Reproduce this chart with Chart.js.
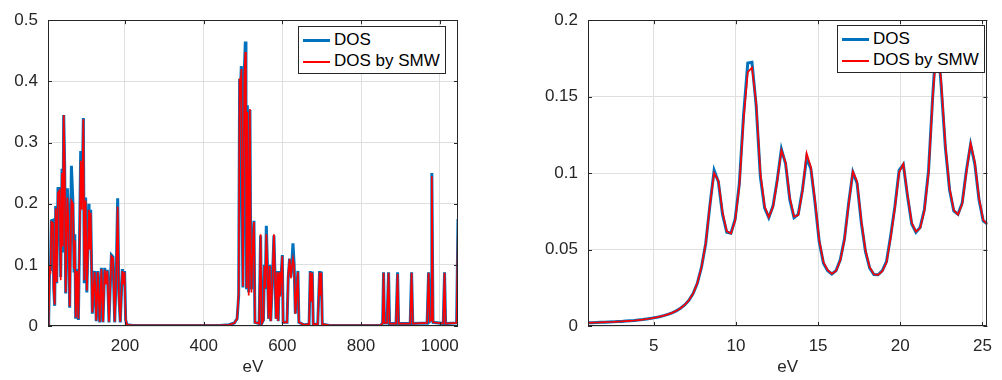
<!DOCTYPE html>
<html>
<head>
<meta charset="utf-8">
<script src="https://cdn.jsdelivr.net/npm/chart.js@4/dist/chart.umd.min.js"></script>
<style>
  body { margin: 0; background: #fff; width: 1002px; height: 380px; overflow: hidden; position: relative; font-family: 'Liberation Sans', Arial, sans-serif; }
  .box { position: absolute; top: 0; height: 380px; }
  #leftBox { left: 0; width: 470px; }
  #rightBox { left: 530px; width: 472px; }
  .legend { position: absolute; width: 146px; height: 46px; background: #fff; border: 1px solid #262626; font-size: 17px; color: #000; }
  .legend .row { position: absolute; left: 0; height: 20px; line-height: 20px; white-space: nowrap; }
  .legend .swatch { display: inline-block; width: 27px; margin: 0 4px 0 4px; vertical-align: middle; }
  .swatch.blue { height: 3px; background: #0072BD; }
  .swatch.red { height: 2px; background: #FF0000; }
</style>
</head>
<body>
<div class="box" id="leftBox"><canvas id="chartLeft"></canvas></div>
<div class="box" id="rightBox"><canvas id="chartRight"></canvas></div>

<div class="legend" style="left:298px; top:26px;">
  <div class="row" style="top:3px;"><span class="swatch blue"></span>DOS</div>
  <div class="row" style="top:24px;"><span class="swatch red"></span>DOS by SMW</div>
</div>
<div class="legend" style="left:837px; top:25px;">
  <div class="row" style="top:3px;"><span class="swatch blue"></span>DOS</div>
  <div class="row" style="top:24px;"><span class="swatch red"></span>DOS by SMW</div>
</div>

<script>
// left panel: full spectrum (eV)
const leftEnergy = [
  4.3, 6, 8.6, 10.5, 12.9, 17, 18.8, 21.3, 23.9, 26.5,
  29.7, 34, 36.6, 40, 42, 44.2, 46.7, 49.3, 51.5, 53.6,
  56, 59.4, 63.8, 67.8, 70.5, 72.5, 74.7, 78, 81.5, 84,
  87.4, 90.5, 94.2, 96.5, 100, 103, 105.5, 108.5, 110.5, 112.8,
  117, 120, 123, 127, 131, 135.7, 140, 144, 148.4, 151.5,
  155.2, 159.3, 165.4, 169.5, 173.8, 177.5, 181.4, 184.5, 188, 193.4,
  196, 199, 201.7, 205, 220, 440, 465, 478, 485, 489,
  491.4, 493.5, 495.7, 497.5, 499.8, 502, 503.5, 505.9, 507.5, 509,
  511, 513, 514.5, 517.6, 519.5, 521.5, 523.5, 525, 527.8, 530.3,
  541, 544.7, 547.5, 552, 554.5, 556.5, 559.3, 562, 565, 568,
  570.5, 575, 578.6, 581, 584, 587, 589.5, 592, 594, 599.9,
  602, 612, 615, 618.5, 621.5, 624, 627, 630, 633, 636,
  639.6, 642, 655, 668, 671, 673.5, 676, 678.5, 690, 694.7,
  697, 699, 701.5, 720, 850, 855, 857.3, 859.5, 866, 870,
  872.5, 889, 892.9, 895.5, 925, 928.5, 931.5, 968, 971.7, 975,
  978, 980, 983, 1009, 1012.3, 1015, 1043, 1046.5
];
const leftDos = [
  0.003, 0.010, 0.100, 0.090, 0.172, 0.173, 0.063, 0.033, 0.196, 0.070,
  0.225, 0.226, 0.080, 0.257, 0.120, 0.345, 0.262, 0.053, 0.150, 0.225,
  0.180, 0.030, 0.262, 0.200, 0.090, 0.150, 0.012, 0.093, 0.010, 0.120,
  0.286, 0.200, 0.340, 0.070, 0.210, 0.055, 0.120, 0.200, 0.130, 0.190,
  0.020, 0.060, 0.090, 0.008, 0.090, 0.006, 0.095, 0.006, 0.095, 0.070,
  0.092, 0.006, 0.116, 0.113, 0.006, 0.080, 0.209, 0.050, 0.006, 0.093,
  0.070, 0.090, 0.010, 0.002, 0.001, 0.001, 0.002, 0.005, 0.012, 0.050,
  0.404, 0.380, 0.425, 0.200, 0.063, 0.300, 0.420, 0.465, 0.250, 0.060,
  0.361, 0.150, 0.055, 0.353, 0.120, 0.060, 0.120, 0.140, 0.172, 0.006,
  0.004, 0.148, 0.004, 0.010, 0.100, 0.060, 0.164, 0.100, 0.012, 0.100,
  0.008, 0.080, 0.148, 0.090, 0.012, 0.090, 0.008, 0.090, 0.050, 0.116,
  0.006, 0.006, 0.080, 0.110, 0.080, 0.100, 0.135, 0.100, 0.020, 0.050,
  0.090, 0.006, 0.002, 0.003, 0.090, 0.040, 0.089, 0.003, 0.003, 0.090,
  0.050, 0.089, 0.003, 0.001, 0.001, 0.005, 0.088, 0.005, 0.005, 0.088,
  0.004, 0.004, 0.088, 0.004, 0.004, 0.088, 0.004, 0.005, 0.088, 0.008,
  0.010, 0.250, 0.006, 0.004, 0.088, 0.004, 0.005, 0.175
];
const leftSmw = [
  0.003, 0.010, 0.098, 0.085, 0.170, 0.168, 0.060, 0.035, 0.192, 0.072,
  0.218, 0.222, 0.075, 0.250, 0.130, 0.345, 0.265, 0.055, 0.145, 0.210,
  0.175, 0.032, 0.205, 0.200, 0.095, 0.140, 0.014, 0.090, 0.012, 0.115,
  0.270, 0.190, 0.338, 0.075, 0.205, 0.058, 0.115, 0.190, 0.125, 0.185,
  0.022, 0.058, 0.088, 0.009, 0.088, 0.007, 0.093, 0.007, 0.092, 0.068,
  0.090, 0.007, 0.114, 0.111, 0.007, 0.078, 0.195, 0.048, 0.007, 0.090,
  0.068, 0.088, 0.011, 0.002, 0.001, 0.001, 0.002, 0.005, 0.012, 0.055,
  0.405, 0.370, 0.420, 0.210, 0.065, 0.290, 0.410, 0.448, 0.260, 0.062,
  0.350, 0.155, 0.050, 0.355, 0.125, 0.055, 0.115, 0.135, 0.170, 0.006,
  0.004, 0.150, 0.004, 0.010, 0.098, 0.062, 0.150, 0.095, 0.012, 0.098,
  0.008, 0.078, 0.150, 0.088, 0.012, 0.088, 0.008, 0.088, 0.048, 0.114,
  0.006, 0.006, 0.085, 0.110, 0.078, 0.095, 0.110, 0.098, 0.020, 0.048,
  0.088, 0.006, 0.002, 0.003, 0.088, 0.040, 0.087, 0.003, 0.003, 0.088,
  0.050, 0.087, 0.003, 0.001, 0.001, 0.005, 0.087, 0.005, 0.005, 0.087,
  0.004, 0.004, 0.085, 0.004, 0.004, 0.087, 0.004, 0.005, 0.087, 0.008,
  0.010, 0.245, 0.006, 0.004, 0.087, 0.004, 0.005, 0.175
];
const leftXTicks = [200, 400, 600, 800, 1000];

// right panel: low-energy zoom, uniform grid from 1 to 25.3 eV
const rightStart = 1;
const rightEnd = 25.3;
const rightDos = [
  0.0021, 0.0022, 0.0023, 0.0024, 0.0025, 0.0026, 0.0027, 0.0029, 0.0030, 0.0032,
  0.0034, 0.0036, 0.0039, 0.0042, 0.0046, 0.0050, 0.0055, 0.0061, 0.0068, 0.0076,
  0.0086, 0.0099, 0.0116, 0.0138, 0.0168, 0.0212, 0.0280, 0.0385, 0.0540, 0.0790,
  0.1018, 0.0944, 0.0730, 0.0613, 0.0607, 0.0698, 0.0933, 0.1380, 0.1720, 0.1725,
  0.1440, 0.0975, 0.0773, 0.0709, 0.0784, 0.0954, 0.1157, 0.1060, 0.0826, 0.0709,
  0.0730, 0.0890, 0.1100, 0.1029, 0.0805, 0.0550, 0.0411, 0.0362, 0.0340, 0.0362,
  0.0433, 0.0570, 0.0805, 0.1007, 0.0933, 0.0677, 0.0486, 0.0379, 0.0337, 0.0335,
  0.0362, 0.0422, 0.0592, 0.0784, 0.1018, 0.1056, 0.0848, 0.0667, 0.0613, 0.0645,
  0.0762, 0.1018, 0.1508, 0.1934, 0.1570, 0.1167, 0.0890, 0.0752, 0.0730, 0.0805,
  0.1018, 0.1188, 0.1060, 0.0826, 0.0688, 0.0667
];
const rightSmw = [
  0.0021, 0.0022, 0.0023, 0.0024, 0.0025, 0.0026, 0.0027, 0.0029, 0.0030, 0.0032,
  0.0034, 0.0036, 0.0039, 0.0042, 0.0046, 0.0050, 0.0055, 0.0061, 0.0068, 0.0076,
  0.0086, 0.0099, 0.0116, 0.0138, 0.0168, 0.0212, 0.0280, 0.0385, 0.0540, 0.0790,
  0.1000, 0.0950, 0.0745, 0.0620, 0.0605, 0.0690, 0.0915, 0.1350, 0.1660, 0.1690,
  0.1460, 0.1000, 0.0785, 0.0712, 0.0778, 0.0945, 0.1150, 0.1070, 0.0840, 0.0715,
  0.0725, 0.0880, 0.1130, 0.1040, 0.0820, 0.0560, 0.0418, 0.0365, 0.0342, 0.0360,
  0.0428, 0.0562, 0.0795, 0.1010, 0.0945, 0.0690, 0.0495, 0.0384, 0.0338, 0.0334,
  0.0358, 0.0415, 0.0580, 0.0772, 0.1005, 0.1060, 0.0860, 0.0675, 0.0617, 0.0640,
  0.0752, 0.1000, 0.1500, 0.1860, 0.1600, 0.1185, 0.0900, 0.0758, 0.0728, 0.0798,
  0.1005, 0.1195, 0.1072, 0.0838, 0.0692, 0.0665
];
const rightXTicks = [5, 10, 15, 20, 25];

const rightStep = (rightEnd - rightStart) / (rightDos.length - 1);
const rightEnergy = rightDos.map((_, i) => rightStart + i * rightStep);

Chart.defaults.font.family = "'Liberation Sans', Arial, sans-serif";
Chart.defaults.font.size = 17;
Chart.defaults.color = '#262626';

// plain number labels, like 0.15 / 1000 (no padding zeros, no thousands sep)
const plainLabel = v => String(Number(v.toFixed(4)));

// MATLAB-style box with inward ticks on all four sides
const boxPlugin = {
  id: 'boxPlugin',
  afterDraw(chart) {
    const { ctx, chartArea: a, scales } = chart;
    ctx.save();
    ctx.strokeStyle = '#262626';
    ctx.lineWidth = 1;
    ctx.beginPath();
    scales.x.ticks.forEach(t => {
      const px = Math.round(scales.x.getPixelForValue(t.value)) + 0.5;
      ctx.moveTo(px, a.bottom); ctx.lineTo(px, a.bottom - 4);
      ctx.moveTo(px, a.top); ctx.lineTo(px, a.top + 4);
    });
    scales.y.ticks.forEach(t => {
      const py = Math.round(scales.y.getPixelForValue(t.value)) + 0.5;
      ctx.moveTo(a.left, py); ctx.lineTo(a.left + 4, py);
      ctx.moveTo(a.right, py); ctx.lineTo(a.right - 4, py);
    });
    ctx.stroke();
    ctx.strokeRect(Math.round(a.left) + 0.5, Math.round(a.top) + 0.5,
      Math.round(a.right - a.left) - 1, Math.round(a.bottom - a.top) - 1);
    ctx.restore();
  }
};

function makeChart(id, energy, dos, smw, opts) {
  const ctx = document.getElementById(id).getContext('2d');
  return new Chart(ctx, {
    type: 'line',
    data: {
      datasets: [
        {
          label: 'DOS',
          data: energy.map((x, i) => ({ x: x, y: dos[i] })),
          borderColor: '#0072BD',
          borderWidth: 3,
          pointRadius: 0,
          tension: 0,
          order: 2
        },
        {
          label: 'DOS by SMW',
          data: energy.map((x, i) => ({ x: x, y: smw[i] })),
          borderColor: '#FF0000',
          borderWidth: 1.7,
          pointRadius: 0,
          tension: 0,
          order: 1
        }
      ]
    },
    options: {
      responsive: true,
      maintainAspectRatio: false,
      animation: false,
      devicePixelRatio: 1,
      layout: { padding: { left: 0, right: opts.padRight, top: 13, bottom: 0 } },
      plugins: { legend: { display: false }, tooltip: { enabled: false } },
      scales: {
        x: {
          type: 'linear',
          min: opts.xMin,
          max: opts.xMax,
          afterBuildTicks: scale => { scale.ticks = opts.xTicks.map(v => ({ value: v })); },
          afterFit: scale => { scale.height = 54; },
          grid: { color: '#dfdfdf', drawTicks: false },
          border: { display: false },
          ticks: { padding: 10, maxRotation: 0, callback: plainLabel },
          title: { display: true, text: 'eV', padding: { top: 0, bottom: 2 } }
        },
        y: {
          min: 0,
          max: opts.yMax,
          afterFit: scale => { scale.width = opts.yWidth; },
          grid: { color: '#dfdfdf', drawTicks: false },
          border: { display: false },
          ticks: { stepSize: opts.yStep, padding: 10, callback: plainLabel }
        }
      }
    },
    plugins: [boxPlugin]
  });
}

makeChart('chartLeft', leftEnergy, leftDos, leftSmw,
  { xMin: 4.3, xMax: 1046.5, xTicks: leftXTicks, yMax: 0.5, yStep: 0.1, yWidth: 48, padRight: 12 });
makeChart('chartRight', rightEnergy, rightDos, rightSmw,
  { xMin: rightStart, xMax: rightEnd, xTicks: rightXTicks, yMax: 0.2, yStep: 0.05, yWidth: 58, padRight: 4.5 });
</script>
</body>
</html>
